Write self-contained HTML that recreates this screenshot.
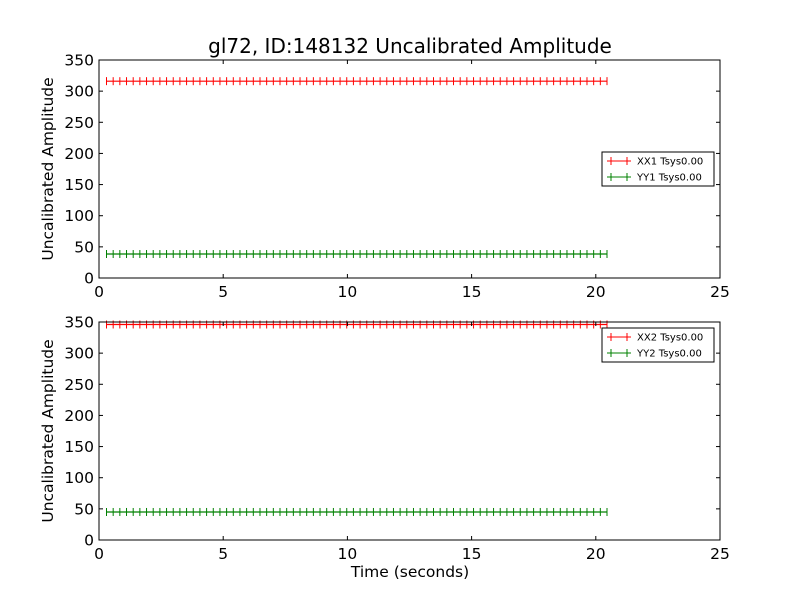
<!DOCTYPE html>
<html><head><meta charset="utf-8"><style>
body{margin:0;background:#fff}
svg text{font-family:"DejaVu Sans","Liberation Sans",sans-serif;fill:#000}
</style></head><body>
<svg id="s" width="800" height="600" xmlns="http://www.w3.org/2000/svg">
<rect width="800" height="600" fill="#fff"/>
<text x="410" y="53" font-size="20" text-anchor="middle">gl72, ID:148132 Uncalibrated Amplitude</text>
<g id="g"></g>
<text x="410" y="577" font-size="15.5" text-anchor="middle">Time (seconds)</text>
<text transform="translate(53,169) rotate(-90)" font-size="15.5" text-anchor="middle">Uncalibrated Amplitude</text>
<text transform="translate(53,431) rotate(-90)" font-size="15.5" text-anchor="middle">Uncalibrated Amplitude</text>
</svg>
<script>
const g=document.getElementById('g');let h='';
function ax(top,bot,series,leg){
 const sy=v=>bot-v*(bot-top)/350;
 series.forEach(([v,c])=>{const y=sy(v);
  h+=`<line x1="106" y1="${y}" x2="607" y2="${y}" stroke="${c}" stroke-width="1.2"/>`;
  for(let i=0;i<76;i++){const x=106.5+i*(500.5/75);
   h+=`<line x1="${x}" y1="${y-4}" x2="${x}" y2="${y+4}" stroke="${c}" stroke-width="1"/>`;}
 });
 h+=`<rect x="99" y="${top}" width="621" height="${bot-top}" fill="none" stroke="#000" stroke-width="1"/>`;
 for(let v=0;v<=350;v+=50){const y=sy(v);
  h+=`<line x1="99" y1="${y}" x2="103" y2="${y}" stroke="#000"/><line x1="716" y1="${y}" x2="720" y2="${y}" stroke="#000"/>`;
  h+=`<text x="94" y="${y+5.5}" font-size="15.5" text-anchor="end">${v}</text>`;}
 for(let t=0;t<=25;t+=5){const x=99+t*621/25;
  h+=`<line x1="${x}" y1="${bot}" x2="${x}" y2="${bot-4}" stroke="#000"/><line x1="${x}" y1="${top}" x2="${x}" y2="${top+4}" stroke="#000"/>`;
  h+=`<text x="${x}" y="${bot+19}" font-size="15.5" text-anchor="middle">${t}</text>`;}
 const ly=leg;
 h+=`<rect x="602" y="${ly}" width="112" height="34" fill="#fff" stroke="#000" stroke-width="1"/>`;
 series.forEach(([v,c,n],k)=>{const y=ly+9+k*16;
  h+=`<line x1="607" y1="${y}" x2="631" y2="${y}" stroke="${c}"/><line x1="611" y1="${y-4}" x2="611" y2="${y+4}" stroke="${c}"/><line x1="627" y1="${y-4}" x2="627" y2="${y+4}" stroke="${c}"/>`;
  h+=`<text x="637" y="${y+3.5}" font-size="10">${n}</text>`;});
}
ax(60,278,[[316,'#ff0000','XX1 Tsys0.00'],[38.5,'#008000','YY1 Tsys0.00']],152);
ax(322,540,[[346,'#ff0000','XX2 Tsys0.00'],[45,'#008000','YY2 Tsys0.00']],328);
g.innerHTML=h;
</script>
</body></html>
